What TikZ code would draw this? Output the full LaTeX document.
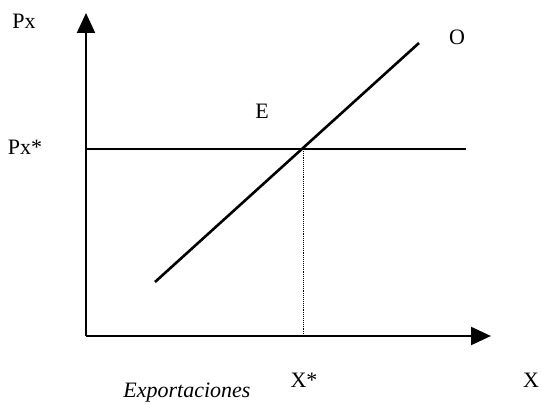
\documentclass[tikz,border=0pt]{standalone}
\usepackage{fontspec}
\setmainfont{Liberation Serif}
\usetikzlibrary{arrows.meta,positioning,calc}

\begin{document}
\begin{tikzpicture}[
    x=1pt, y=1pt,
    axis/.style={line width=2.2pt, -{Triangle[length=20pt,width=18pt]}},
    curve/.style={line width=2.6pt},
    level/.style={line width=1.3pt},
    guide/.style={line width=0.9pt, densely dotted},
    label/.style={font=\fontsize{22}{26}\selectfont, inner sep=0pt},
]
\useasboundingbox (0,0) rectangle (542,405);

% Axes
\coordinate (origin) at (86,69);
\coordinate (ytip) at (86,392);
\coordinate (xtip) at (491,69);
\draw[axis] (origin) -- (ytip);
\draw[axis] (origin) -- (xtip);

% Price level Px*
\coordinate (pleft) at (86,256);
\coordinate (pright) at (466,256);
\draw[level] (pleft) -- (pright);

% Supply curve O
\coordinate (olow) at (155,123);
\coordinate (ohigh) at (419,362);
\draw[curve] (olow) -- (ohigh);

% Equilibrium and guide to X*
\coordinate (equil) at (303,256);
\coordinate (xfoot) at (303,69);
\draw[guide] (equil) -- (xfoot);

% Labels
\node[label] (px) at (24,384) {Px};
\node[label] (pxstar) at (25,258) {Px*};
\node[label] (otext) at (457,368) {O};
\node[label] (etext) at (262,294) {E};
\node[label] (xstar) at (304,25) {X*};
\node[label] (xtext) at (531,25) {X};
\node[label, font=\fontsize{22}{26}\selectfont\itshape] (expo) at (187,12) {Exportaciones};

\end{tikzpicture}
\end{document}
